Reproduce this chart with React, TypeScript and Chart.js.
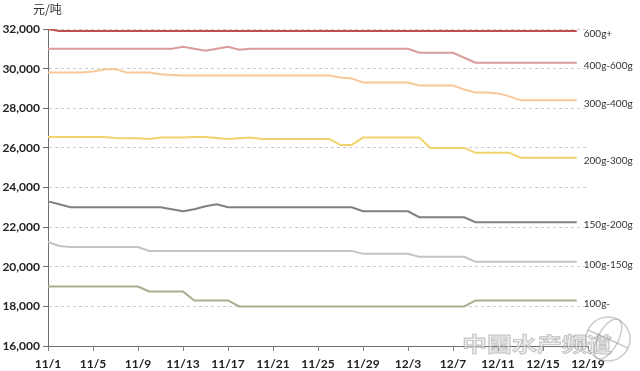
import React, { useEffect, useRef } from 'react';
import { Chart, registerables } from 'chart.js';
Chart.register(...registerables);

const dates = [
  '11/1','11/2','11/3','11/4','11/5','11/6','11/7','11/8','11/9','11/10',
  '11/11','11/12','11/13','11/14','11/15','11/16','11/17','11/18','11/19','11/20',
  '11/21','11/22','11/23','11/24','11/25','11/26','11/27','11/28','11/29','11/30',
  '12/1','12/2','12/3','12/4','12/5','12/6','12/7','12/8','12/9','12/10',
  '12/11','12/12','12/13','12/14','12/15','12/16','12/17','12/18','12/19'
];

const seriesNames = ['600g+', '400g-600g', '300g-400g', '200g-300g', '150g-200g', '100g-150g', '100g-'];
const seriesColors = ['#c0504d', '#d89c9a', '#f9c898', '#f2d46e', '#808080', '#c3c3c3', '#adab92'];

const s600 = [
  32000,31900,31900,31900,31900,31900,31900,31900,31900,31900,
  31900,31900,31900,31900,31900,31900,31900,31900,31900,31900,
  31900,31900,31900,31900,31900,31900,31900,31900,31900,31900,
  31900,31900,31900,31900,31900,31900,31900,31900,31900,31900,
  31900,31900,31900,31900,31900,31900,31900,31900
];
const s400 = [
  31000,31000,31000,31000,31000,31000,31000,31000,31000,31000,
  31000,31000,31100,31000,30900,31000,31100,30950,31000,31000,
  31000,31000,31000,31000,31000,31000,31000,31000,31000,31000,
  31000,31000,31000,30800,30800,30800,30800,30550,30300,30300,
  30300,30300,30300,30300,30300,30300,30300,30300
];
const s300 = [
  29800,29800,29800,29800,29850,29950,29980,29800,29800,29800,
  29720,29680,29650,29650,29650,29650,29650,29650,29650,29650,
  29650,29650,29650,29650,29650,29650,29550,29500,29300,29300,
  29300,29300,29300,29150,29150,29150,29150,28950,28800,28800,
  28750,28600,28400,28400,28400,28400,28400,28400
];
const s200 = [
  26550,26550,26550,26550,26550,26550,26500,26480,26480,26450,
  26520,26520,26520,26550,26550,26500,26450,26480,26520,26450,
  26450,26450,26450,26450,26450,26450,26150,26150,26520,26520,
  26520,26520,26520,26520,26000,26000,26000,26000,25750,25750,
  25750,25750,25500,25500,25500,25500,25500,25500
];
const s150 = [
  23300,23150,23000,23000,23000,23000,23000,23000,23000,23000,
  23000,22900,22800,22900,23050,23150,23000,23000,23000,23000,
  23000,23000,23000,23000,23000,23000,23000,23000,22800,22800,
  22800,22800,22800,22500,22500,22500,22500,22500,22250,22250,
  22250,22250,22250,22250,22250,22250,22250,22250
];
const s100150 = [
  21250,21050,21000,21000,21000,21000,21000,21000,21000,20800,
  20800,20800,20800,20800,20800,20800,20800,20800,20800,20800,
  20800,20800,20800,20800,20800,20800,20800,20800,20650,20650,
  20650,20650,20650,20500,20500,20500,20500,20500,20250,20250,
  20250,20250,20250,20250,20250,20250,20250,20250
];
const s100 = [
  19000,19000,19000,19000,19000,19000,19000,19000,19000,18750,
  18750,18750,18750,18300,18300,18300,18300,18000,18000,18000,
  18000,18000,18000,18000,18000,18000,18000,18000,18000,18000,
  18000,18000,18000,18000,18000,18000,18000,18000,18300,18300,
  18300,18300,18300,18300,18300,18300,18300,18300
];
const seriesValues = [s600, s400, s300, s200, s150, s100150, s100];

const yMin = 16000;
const yMax = 32000;
const yStep = 2000;
const unitLabel = '元/吨';
const watermark = '中国水产频道';

const overlayPlugin = {
  id: 'overlay',
  afterDatasetsDraw(chart: any) {
    const ctx = chart.ctx;
    ctx.save();
    ctx.font = '10px Lato, "Open Sans", sans-serif';
    ctx.fillStyle = '#333333';
    ctx.textAlign = 'left';
    ctx.textBaseline = 'middle';
    chart.data.datasets.forEach((ds: any, i: number) => {
      const meta = chart.getDatasetMeta(i);
      const pts = meta.data;
      let last: any = null;
      for (let k = pts.length - 1; k >= 0; k--) {
        if (ds.data[k] !== null && ds.data[k] !== undefined) { last = pts[k]; break; }
      }
      if (last) ctx.fillText(ds.label, last.x + 7, last.y + 3);
    });
    ctx.font = '12px "Noto Sans CJK SC", sans-serif';
    ctx.fillStyle = '#333333';
    ctx.fillText(unitLabel, 33, 9);

    // watermark
    ctx.globalAlpha = 0.55;
    ctx.font = 'bold 25px "Noto Sans CJK SC", sans-serif';
    ctx.fillStyle = '#e2e2e2';
    ctx.strokeStyle = '#8a8a8a';
    ctx.lineWidth = 1;
    ctx.save();
    ctx.translate(462, 344);
    ctx.scale(1, 0.8);
    ctx.fillText(watermark, 0, 0);
    ctx.strokeText(watermark, 0, 0);
    ctx.restore();
    ctx.beginPath();
    ctx.arc(608, 339, 22, 0, Math.PI * 2);
    ctx.strokeStyle = '#a0a0a0';
    ctx.lineWidth = 1.5;
    ctx.stroke();
    ctx.beginPath();
    ctx.ellipse(608, 339, 10, 22, 0.5, 0, Math.PI * 2);
    ctx.stroke();
    ctx.beginPath();
    ctx.moveTo(588, 330);
    ctx.lineTo(628, 348);
    ctx.stroke();
    ctx.restore();
  }
};

export default function App() {
  const ref = useRef<HTMLCanvasElement>(null);
  useEffect(() => {
    document.body.style.margin = '0';
    const chart = new Chart(ref.current as HTMLCanvasElement, {
      type: 'line',
      data: {
        labels: dates,
        datasets: seriesNames.map((name, i) => ({
          label: name,
          data: seriesValues[i],
          borderColor: seriesColors[i],
          backgroundColor: seriesColors[i],
          borderWidth: 2,
          pointRadius: 0,
          tension: 0,
          fill: false,
        })),
      },
      options: {
        responsive: false,
        animation: false,
        layout: { padding: { top: 29, right: 52, left: 0, bottom: 0 } },
        plugins: { legend: { display: false }, tooltip: { enabled: false } },
        scales: {
          x: {
            type: 'category',
            offset: false,
            grid: {
              drawOnChartArea: false,
              drawTicks: true,
              tickLength: 5,
              color: '#7f7f7f',
              offset: false,
            },
            border: { color: '#6f6f6f', width: 1 },
            ticks: {
              autoSkip: false,
              maxRotation: 0,
              minRotation: 0,
              padding: 6,
              color: '#222222',
              font: { family: 'Lato', weight: 'bold', size: 12 },
              callback: (_v: any, i: number) => (i % 4 === 0 ? dates[i] : null),
            },
            afterFit: (s: any) => { s.height = 25; },
          },
          y: {
            min: yMin,
            max: yMax,
            grid: {
              color: (c: any) => (c.tick && c.tick.value === yMin ? 'rgba(0,0,0,0)' : '#cccccc'),
              tickColor: '#6f6f6f',
              tickLength: 5,
              tickBorderDash: [],
              lineWidth: 1,
            },
            border: { color: '#6f6f6f', width: 1, dash: [3, 3] },
            ticks: {
              stepSize: yStep,
              padding: 3,
              color: '#222222',
              font: { family: 'Lato', weight: 'bold', size: 12 },
              callback: (v: any) => Number(v).toLocaleString('en-US'),
            },
            afterFit: (s: any) => { s.width = 48; },
          },
        },
      } as any,
      plugins: [overlayPlugin],
    });
    return () => chart.destroy();
  }, []);
  return (
    <div style={{ width: 640, height: 371, background: '#ffffff' }}>
      <canvas ref={ref} width={640} height={371} style={{ display: 'block' }} />
    </div>
  );
}
